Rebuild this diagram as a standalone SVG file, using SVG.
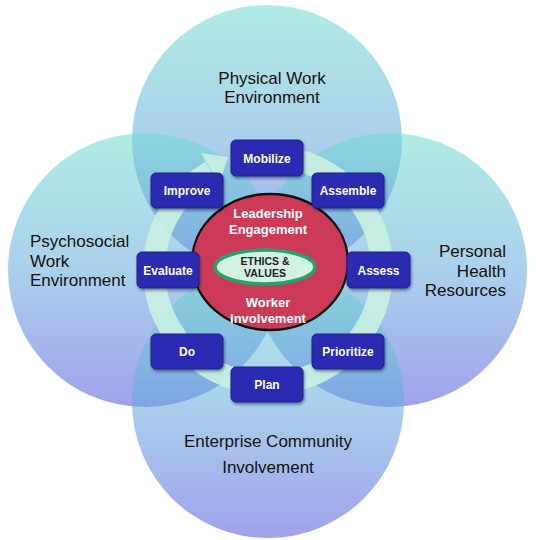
<svg xmlns="http://www.w3.org/2000/svg" width="536" height="540" viewBox="0 0 536 540">
<defs>
  <linearGradient id="cg" x1="0" y1="0" x2="0" y2="1">
    <stop offset="0" stop-color="#6fdcce"/>
    <stop offset="0.5" stop-color="#64aadc"/>
    <stop offset="1" stop-color="#5256dc"/>
  </linearGradient>
  <filter id="sh" x="-20%" y="-20%" width="150%" height="160%">
    <feDropShadow dx="1" dy="2" stdDeviation="1.5" flood-color="#000033" flood-opacity="0.45"/>
  </filter>
</defs>
<style>
  .c{fill:url(#cg);fill-opacity:0.55}
  .lbl{font-family:"Liberation Sans",Arial,sans-serif;font-size:17px;fill:#111}
  .mid{text-anchor:middle}
  .end{text-anchor:end}
  .box rect{fill:#2c2cb2;stroke:#1e1e88;stroke-width:1;filter:url(#sh)}
  .box text{font-family:"Liberation Sans",Arial,sans-serif;font-size:12px;font-weight:bold;fill:#fff;text-anchor:middle}
  .core{font-family:"Liberation Sans",Arial,sans-serif;font-size:13px;font-weight:bold;fill:#fff;text-anchor:middle}
  .eth{font-family:"Liberation Sans",Arial,sans-serif;font-size:10.5px;font-weight:bold;fill:#222;text-anchor:middle}
</style>

<g id="circle-physical">
  <circle class="c" cx="267" cy="140" r="135"/>
  <text class="lbl mid" x="272" y="84">Physical Work</text>
  <text class="lbl mid" x="272" y="103">Environment</text>
</g>
<g id="circle-psychosocial">
  <circle class="c" cx="145" cy="270" r="137"/>
  <text class="lbl" x="30" y="247">Psychosocial</text>
  <text class="lbl" x="30" y="267">Work</text>
  <text class="lbl" x="30" y="286">Environment</text>
</g>
<g id="circle-personal">
  <circle class="c" cx="390" cy="270" r="137"/>
  <text class="lbl end" x="506" y="257">Personal</text>
  <text class="lbl end" x="506" y="277">Health</text>
  <text class="lbl end" x="506" y="296">Resources</text>
</g>
<g id="circle-enterprise">
  <circle class="c" cx="268" cy="402" r="136"/>
  <text class="lbl mid" x="268" y="447">Enterprise Community</text>
  <text class="lbl mid" x="268" y="473">Involvement</text>
</g>

<g id="connectors">
  <path d="M 268 156 A 114 114 0 1 1 211 171.3" fill="none" stroke="#c8f0e2" stroke-width="22" stroke-opacity="0.92"/>
  <polygon points="201,153 228,157 219,184" fill="#c8f0e2" fill-opacity="0.92"/>
</g>

<g id="core">
  <ellipse cx="270" cy="262" rx="78" ry="68" fill="#cd3a57" stroke="#111" stroke-width="2.5"/>
  <text class="core" x="268" y="218">Leadership</text>
  <text class="core" x="268" y="234">Engagement</text>
  <text class="core" x="268" y="307">Worker</text>
  <text class="core" x="268" y="323">Involvement</text>
</g>
<g id="ethics">
  <ellipse cx="265" cy="267" rx="50" ry="17" fill="#d2f2e2" stroke="#25a270" stroke-width="3.5"/>
  <text class="eth" x="265" y="265">ETHICS &amp;</text>
  <text class="eth" x="265" y="277">VALUES</text>
</g>

<g id="mobilize" class="box"><rect x="231" y="140" width="72" height="36" rx="5"/><text x="267" y="162.5">Mobilize</text></g>
<g id="improve" class="box"><rect x="151" y="173" width="72" height="35" rx="5"/><text x="187" y="195">Improve</text></g>
<g id="assemble" class="box"><rect x="312" y="173" width="72" height="35" rx="5"/><text x="348" y="195">Assemble</text></g>
<g id="evaluate" class="box"><rect x="137" y="252" width="62" height="36" rx="5"/><text x="168" y="274.5">Evaluate</text></g>
<g id="assess" class="box"><rect x="347" y="252" width="63" height="36" rx="5"/><text x="378.5" y="274.5">Assess</text></g>
<g id="do" class="box"><rect x="151" y="334" width="72" height="35" rx="5"/><text x="187" y="356">Do</text></g>
<g id="prioritize" class="box"><rect x="312" y="334" width="72" height="35" rx="5"/><text x="348" y="356">Prioritize</text></g>
<g id="plan" class="box"><rect x="231" y="367" width="72" height="35" rx="5"/><text x="267" y="389">Plan</text></g>
</svg>
